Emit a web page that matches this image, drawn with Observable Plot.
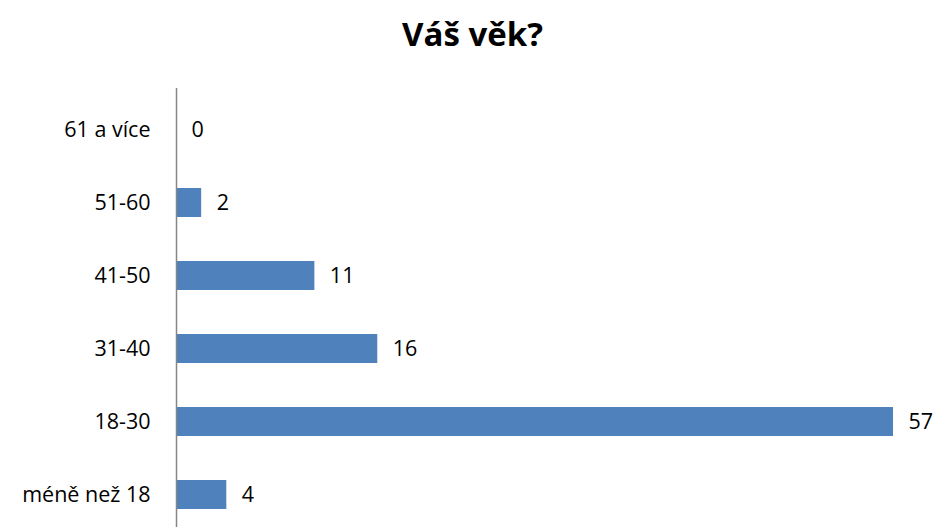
<!DOCTYPE html>
<html><head><meta charset="utf-8">
<script src="https://cdn.jsdelivr.net/npm/d3@7"></script>
<script src="https://cdn.jsdelivr.net/npm/@observablehq/plot@0.6"></script>
<style>
body{margin:0;background:#fff;font-family:"Open Sans",sans-serif;}
#title{height:70px;width:939px;text-align:center;font-weight:bold;font-size:33px;line-height:68px;color:#000;padding-left:6px;box-sizing:border-box;}
</style></head><body>
<div id="title">Váš věk?</div>
<div id="chart"></div>
<script>
const categories = ["61 a více","51-60","41-50","31-40","18-30","méně než 18"];
const counts = [0,2,11,16,57,4];
const data = categories.map((c,i)=>({cat:c, n:counts[i]}));
const chart = Plot.plot({
  width: 939, height: 457,
  marginTop: 18, marginBottom: 0, marginLeft: 176, marginRight: 0,
  style: {fontFamily: "Open Sans, sans-serif", fontSize: "21.5px", color: "#000"},
  x: {domain: [0,57], range: [176, 893], axis: null},
  y: {domain: categories, range: [21, 464], paddingInner: 0.6, paddingOuter: 0.3, label: null, tickSize: 0, tickPadding: 26},
  marks: [
    Plot.barX(data, {x: "n", y: "cat", fill: "#4F81BD"}),
    Plot.ruleX([0], {stroke: "#868686", strokeWidth: 1.5}),
    Plot.text(data, {x: "n", y: "cat", text: d => String(d.n), textAnchor: "start", dx: 15, fontSize: 21.5, fill: "#000"})
  ]
});
document.getElementById("chart").appendChild(chart);
</script>
</body></html>
